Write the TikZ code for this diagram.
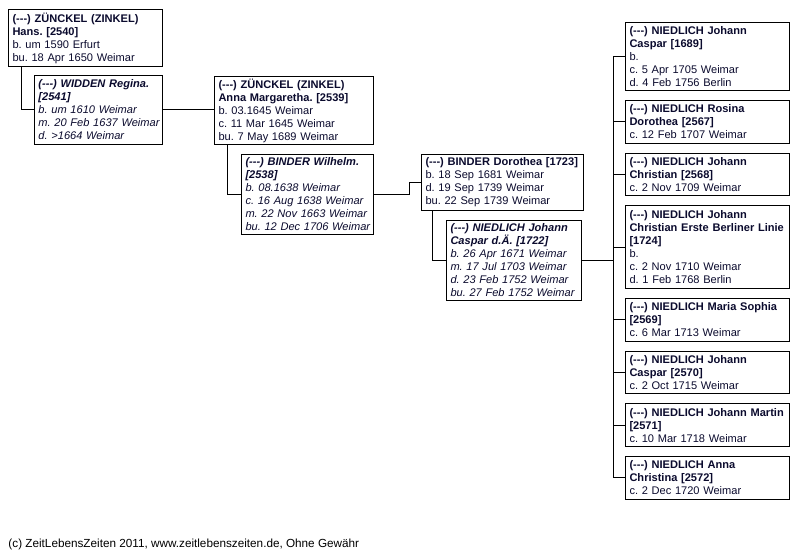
\documentclass[tikz,border=0pt]{standalone}
\usepackage{fontspec}
\setmainfont{Liberation Sans}[Ligatures=TeXOff]
\usetikzlibrary{positioning}
\definecolor{ahnink}{RGB}{10,10,45}
\frenchspacing

\begin{document}
\begin{tikzpicture}[x=0.75pt, y=-0.75pt, line width=0.75pt,
    person/.style={draw, anchor=north west, align=left, text=ahnink,
              inner xsep=3pt, inner ysep=0pt, font=\fontsize{8.3}{9.75}\selectfont,
              execute at begin node={\rightskip=0pt plus 1fil minus 8pt}},
    spouse/.style={person, font=\fontsize{8.3}{9.75}\selectfont\itshape},
    kid/.style={person, text width=117pt, minimum height=32pt},
    credit/.style={anchor=base west, inner sep=0pt, font=\fontsize{8.8}{10}\selectfont}]
\useasboundingbox (0,0) rectangle (800,555);
% ancestors
\node[person, text width=109.5pt, minimum height=42.75pt] (hans) at (8,9)
  {\textbf{(---) ZÜNCKEL (ZINKEL)}\\\textbf{Hans. [2540]}\\b. um 1590 Erfurt\\bu. 18 Apr 1650 Weimar};
\node[spouse, text width=90pt, minimum height=51.75pt] (regina) at (34,75)
  {\textbf{(---) WIDDEN Regina.}\\\textbf{[2541]}\\b. um 1610 Weimar\\m. 20 Feb 1637 Weimar\\d. >1664 Weimar};
\node[person, text width=113.25pt, minimum height=51pt] (anna) at (214,76)
  {\textbf{(---) ZÜNCKEL (ZINKEL)}\\\textbf{Anna Margaretha. [2539]}\\b. 03.1645 Weimar\\c. 11 Mar 1645 Weimar\\bu. 7 May 1689 Weimar};
\node[spouse, text width=93pt, minimum height=60pt] (wilhelm) at (241,154)
  {\textbf{(---) BINDER Wilhelm.}\\\textbf{[2538]}\\b. 08.1638 Weimar\\c. 16 Aug 1638 Weimar\\m. 22 Nov 1663 Weimar\\bu. 12 Dec 1706 Weimar};
\node[person, text width=115.5pt, minimum height=42pt] (dorothea) at (421,154)
  {\textbf{(---) BINDER Dorothea [1723]}\\b. 18 Sep 1681 Weimar\\d. 19 Sep 1739 Weimar\\bu. 22 Sep 1739 Weimar};
\node[spouse, text width=95.25pt, minimum height=60pt] (caspar) at (446,220)
  {\textbf{(---) NIEDLICH Johann}\\\textbf{Caspar d.Ä. [1722]}\\b. 26 Apr 1671 Weimar\\m. 17 Jul 1703 Weimar\\d. 23 Feb 1752 Weimar\\bu. 27 Feb 1752 Weimar};
% children
\node[kid, minimum height=51pt] (kid1) at (625,22)
  {\textbf{(---) NIEDLICH Johann}\\\textbf{Caspar [1689]}\\b.\\c. 5 Apr 1705 Weimar\\d. 4 Feb 1756 Berlin};
\node[kid, below=6.75pt of kid1.south west, anchor=north west] (kid2)
  {\textbf{(---) NIEDLICH Rosina}\\\textbf{Dorothea [2567]}\\c. 12 Feb 1707 Weimar};
\node[kid, below=6.75pt of kid2.south west, anchor=north west] (kid3)
  {\textbf{(---) NIEDLICH Johann}\\\textbf{Christian [2568]}\\c. 2 Nov 1709 Weimar};
\node[kid, minimum height=62pt, below=6.75pt of kid3.south west, anchor=north west] (kid4)
  {\textbf{(---) NIEDLICH Johann}\\\textbf{Christian Erste Berliner Linie}\\\textbf{[1724]}\\b.\\c. 2 Nov 1710 Weimar\\d. 1 Feb 1768 Berlin};
\node[kid, below=6.75pt of kid4.south west, anchor=north west] (kid5)
  {\textbf{(---) NIEDLICH Maria Sophia}\\\textbf{[2569]}\\c. 6 Mar 1713 Weimar};
\node[kid, below=6.75pt of kid5.south west, anchor=north west] (kid6)
  {\textbf{(---) NIEDLICH Johann}\\\textbf{Caspar [2570]}\\c. 2 Oct 1715 Weimar};
\node[kid, below=6.75pt of kid6.south west, anchor=north west] (kid7)
  {\textbf{(---) NIEDLICH Johann Martin}\\\textbf{[2571]}\\c. 10 Mar 1718 Weimar};
\node[kid, below=6.75pt of kid7.south west, anchor=north west] (kid8)
  {\textbf{(---) NIEDLICH Anna}\\\textbf{Christina [2572]}\\c. 2 Dec 1720 Weimar};
% links
\draw (hans.south west) ++(13,0) |- (regina.west);
\draw (regina.east) -- (regina.east -| anna.west);
\draw (anna.south west) ++(13,0) |- (wilhelm.west);
\draw (wilhelm.east) -- ++(35,0) |- (dorothea.west);
\draw (dorothea.south west) ++(11,0) |- (caspar.west);
\coordinate (kids) at (613,0);
\draw (caspar.east) -- (caspar.east -| kids);
\draw (kid1.west -| kids) -- (kid8.west -| kids);
\foreach \k in {1,...,8}
  \draw (kid\k.west -| kids) -- (kid\k.west);
\node[credit] (footer) at (8,548) {(c) ZeitLebensZeiten 2011, www.zeitlebenszeiten.de, Ohne Gewähr};
\end{tikzpicture}
\end{document}
